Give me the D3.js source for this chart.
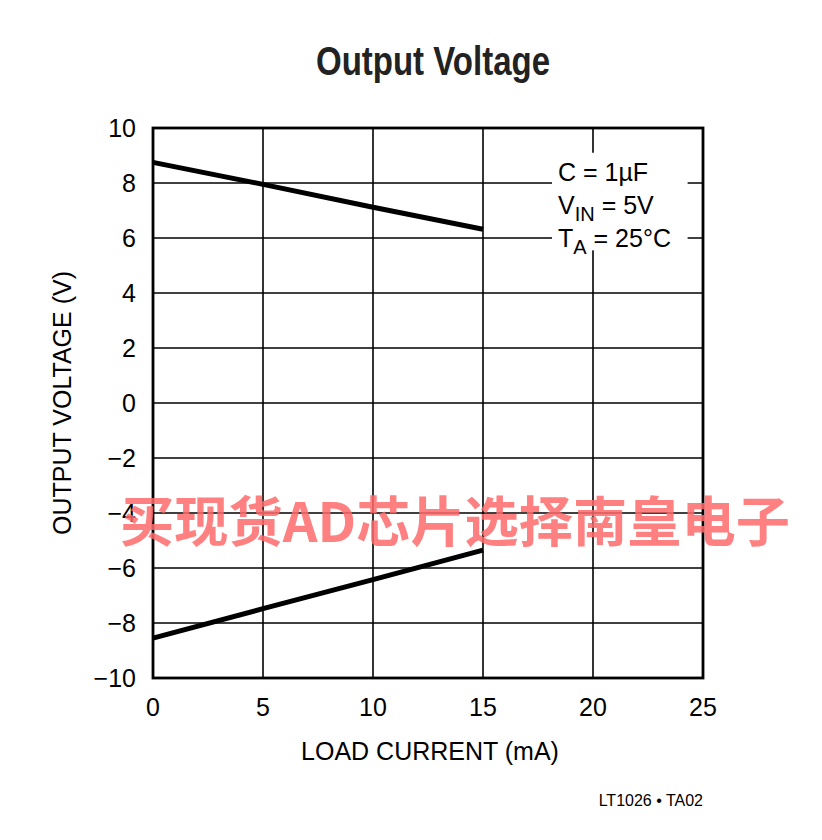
<!DOCTYPE html>
<html><head><meta charset="utf-8">
<script src="https://cdn.jsdelivr.net/npm/d3@7"></script>
<style>body{margin:0;background:#fff;} svg{display:block;}</style>
</head><body>
<svg id="c" width="822" height="840"></svg>
<script>
const xTicks = [0,5,10,15,20,25];
const yTicks = [10,8,6,4,2,0,-2,-4,-6,-8,-10];
const current = [0,5,10,15];
const vPos = [8.75,7.95,7.12,6.32];
const vNeg = [-8.55,-7.48,-6.42,-5.35];
const notes = [["C = 1µF",""],["V","IN"," = 5V"],["T","A"," = 25°C"]];

const svg = d3.select("#c");
const L=153,R=703,T=128,B=678;
const x = d3.scaleLinear().domain([0,25]).range([L,R]);
const y = d3.scaleLinear().domain([-10,10]).range([B,T]);
const font = "'Liberation Sans Narrow','Liberation Sans',Arial,sans-serif";

// grid
const g = svg.append("g");
g.selectAll(".gx").data(xTicks.slice(1,-1)).enter().append("line")
 .attr("x1",d=>x(d)).attr("x2",d=>x(d)).attr("y1",T).attr("y2",B)
 .attr("stroke","#000").attr("stroke-width",1.6);
g.selectAll(".gy").data(yTicks.slice(1,-1)).enter().append("line")
 .attr("y1",d=>y(d)).attr("y2",d=>y(d)).attr("x1",L).attr("x2",R)
 .attr("stroke","#000").attr("stroke-width",1.6);

// annotation background
svg.append("rect").attr("x",x(18)+3).attr("y",y(9.1)).attr("width",x(24.3)-x(18)-3).attr("height",y(5.55)-y(9.1)).attr("fill","#fff");

// frame
svg.append("rect").attr("x",L).attr("y",T).attr("width",R-L).attr("height",B-T)
 .attr("fill","none").attr("stroke","#000").attr("stroke-width",2.8);

// data lines
const line = d3.line().x((d,i)=>x(current[i])).y(d=>y(d));
[vPos,vNeg].forEach(s=>{
 svg.append("path").attr("d",line(s)).attr("fill","none").attr("stroke","#000").attr("stroke-width",5);
});

// y tick labels
svg.selectAll(".yl").data(yTicks).enter().append("text")
 .attr("x",L-17).attr("y",d=>y(d)+9).attr("text-anchor","end")
 .attr("font-family",font).attr("font-size",25).text(d=>d<0?"\u2212"+(-d):d);
// x tick labels
svg.selectAll(".xl").data(xTicks).enter().append("text")
 .attr("x",d=>x(d)).attr("y",B+38).attr("text-anchor","middle")
 .attr("font-family",font).attr("font-size",25).text(d=>d);

// axis titles
svg.append("text").attr("x",430).attr("y",760).attr("text-anchor","middle")
 .attr("font-family",font).attr("font-size",25).text("LOAD CURRENT (mA)");
svg.append("text").attr("transform","translate(71,403) rotate(-90)").attr("text-anchor","middle")
 .attr("font-family",font).attr("font-size",25).text("OUTPUT VOLTAGE (V)");

// title
svg.append("text").attr("x",433).attr("y",75).attr("text-anchor","middle")
 .attr("font-family",font).attr("font-weight","bold").attr("font-size",40)
 .attr("textLength",234).attr("lengthAdjust","spacingAndGlyphs").attr("fill","#222").text("Output Voltage");

// notes
const ny=[181,214,247];
notes.forEach((n,i)=>{
 const t = svg.append("text").attr("x",558).attr("y",ny[i]).attr("font-family",font).attr("font-size",25);
 if(n.length===2){t.text(n[0]);}
 else{
  t.append("tspan").text(n[0]);
  t.append("tspan").attr("dy",7).attr("font-size",20).text(n[1]);
  t.append("tspan").attr("dy",-7).text(n[2]);
 }
});

// footer
svg.append("text").attr("x",703).attr("y",806).attr("text-anchor","end")
 .attr("font-family",font).attr("font-size",16).text("LT1026 \u2022 TA02");

// watermark
svg.append("text").attr("x",455).attr("y",542).attr("text-anchor","middle")
 .attr("font-family","'Noto Sans CJK SC',sans-serif").attr("font-weight","bold")
 .attr("font-size",54).attr("fill","#ff6a6a").attr("fill-opacity",0.85)
 .attr("textLength",670).attr("lengthAdjust","spacingAndGlyphs")
 .text("买现货AD芯片选择南皇电子");
</script>
</body></html>
